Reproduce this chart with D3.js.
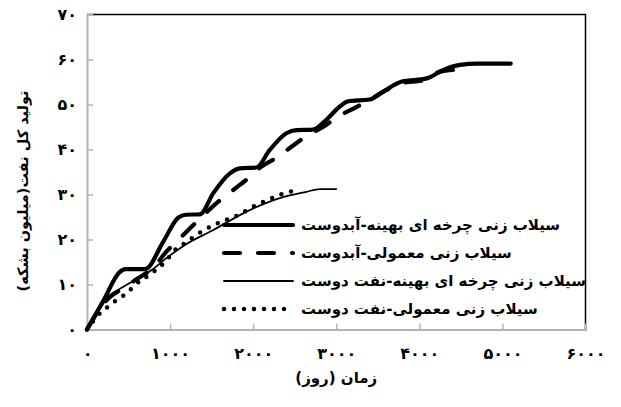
<!DOCTYPE html>
<html lang="fa">
<head>
<meta charset="UTF-8">
<title>تولید کل نفت</title>
<script src="https://d3js.org/d3.v7.min.js"></script>
<style>
  body { margin: 0; background: #fff; font-family: "DejaVu Sans", sans-serif; }
  .tick text { font-size: 16px; font-weight: bold; fill: #000; }
  .title { font-size: 15px; font-weight: bold; fill: #000; }
  .legend-label { font-size: 15px; font-weight: bold; fill: #000; }
</style>
</head>
<body>
<div id="chart"></div>
<script>
// series: [day, cumulative oil (MMbbl)]
const cyclicWaterWet = [
  [0, 0], [200, 6.5], [390, 12.7], [460, 13.4], [700, 13.4], [920, 19.6], [1100, 24.9],
  [1190, 25.5], [1360, 25.6], [1520, 30.3], [1720, 34.7], [1840, 35.8], [2040, 36],
  [2200, 39.9], [2400, 43.6], [2520, 44.3], [2720, 44.4], [2880, 46.6], [3040, 49.5],
  [3140, 50.7], [3400, 51.1], [3560, 52.8], [3790, 55.1], [4090, 55.8], [4290, 57.7],
  [4490, 58.8], [4700, 59.1], [5100, 59.1]
];
const normalWaterWet = [
  [0, 0], [250, 6.8], [400, 8.8], [600, 11.2], [800, 13.8], [960, 17.4], [1080, 19.6],
  [1280, 23.2], [1580, 28.4], [1760, 31], [1940, 33.6], [2100, 36.2], [2300, 38.4],
  [2460, 40.6], [2660, 43.2], [2840, 45], [3020, 47.3], [3220, 49.2], [3400, 51],
  [3600, 53.2], [3800, 54.8], [4050, 55.4], [4250, 57.3], [4410, 57.7]
];
const cyclicOilWet = [
  [0, 0], [120, 3.5], [256, 7.3], [377, 8.8], [578, 11], [778, 13.2], [979, 16.2],
  [1179, 18.8], [1520, 22.1], [1920, 26.2], [2320, 29.2], [2640, 30.6], [2800, 31.2],
  [3000, 31.2]
];
const normalOilWet = [
  [0, 0], [156, 3.6], [277, 5.4], [357, 6.6], [477, 8], [578, 9.9], [778, 12.5],
  [959, 15.4], [1039, 17.3], [1179, 19.2], [1400, 22], [1720, 24.7], [1840, 25.6],
  [1960, 26.9], [2080, 28], [2180, 28.8], [2320, 29.9], [2440, 30.6], [2550, 30.9]
];

const seriesNames = [
  'سیلاب زنی چرخه ای بهینه-آبدوست',
  'سیلاب زنی معمولی-آبدوست',
  'سیلاب زنی چرخه ای بهینه-نفت دوست',
  'سیلاب زنی معمولی-نفت دوست'
];
const xTicks = [0, 1000, 2000, 3000, 4000, 5000, 6000];
const yTicks = [0, 10, 20, 30, 40, 50, 60, 70];
const xTitle = 'زمان (روز)';
const yTitle = 'تولید کل نفت(میلیون بشکه)';

const faDigits = '۰۱۲۳۴۵۶۷۸۹';
const toFa = n => String(n).replace(/\d/g, c => faDigits[c]);

const width = 621, height = 407;
const margin = { top: 14.5, right: 35.5, bottom: 77.5, left: 87 };

const svg = d3.select('#chart').append('svg')
  .attr('width', width)
  .attr('height', height);

const x = d3.scaleLinear().domain([0, 6000]).range([margin.left, width - margin.right]);
const y = d3.scaleLinear().domain([0, 70]).range([height - margin.bottom, margin.top]);

// plot area border (top + right are black)
svg.append('path')
  .attr('d', `M${x(0)},${y(70)}H${x(6000)}V${y(0)}`)
  .attr('fill', 'none')
  .attr('stroke', '#000')
  .attr('stroke-width', 1.5);

const xAxis = svg.append('g')
  .attr('transform', `translate(0,${y(0)})`)
  .call(d3.axisBottom(x).tickValues(xTicks).tickFormat(toFa).tickSize(-6).tickPadding(18));
const yAxis = svg.append('g')
  .attr('transform', `translate(${x(0)},0)`)
  .call(d3.axisLeft(y).tickValues(yTicks).tickFormat(toFa).tickSize(-6).tickPadding(10));

[xAxis, yAxis].forEach(g => {
  g.select('.domain').attr('stroke', '#b3b3b3').attr('stroke-width', 2);
  g.selectAll('.tick line').attr('stroke', '#b3b3b3').attr('stroke-width', 1.5);
  g.selectAll('.tick text').style('font-family', '"DejaVu Sans", sans-serif');
});
// hide ticks lying on the borders
xAxis.selectAll('.tick line').filter(d => d === 0 || d === 6000).remove();
yAxis.selectAll('.tick line').filter(d => d === 0 || d === 70).remove();

const styles = [
  { width: 4.2, dash: null },
  { width: 4.2, dash: '16 18' },
  { width: 1.8, dash: null },
  { width: 4.5, dash: '0 10' }
];
const allSeries = [cyclicWaterWet, normalWaterWet, cyclicOilWet, normalOilWet];

const line = d3.line()
  .x(d => x(d[0]))
  .y(d => y(d[1]))
  .curve(d3.curveMonotoneX);

// draw oil-wet first so the thick curves sit on top
[3, 2, 1, 0].forEach(i => {
  svg.append('path')
    .datum(allSeries[i])
    .attr('d', line)
    .attr('fill', 'none')
    .attr('stroke', '#000')
    .attr('stroke-width', styles[i].width)
    .attr('stroke-linecap', 'round')
    .attr('stroke-linejoin', 'round')
    .attr('stroke-dasharray', styles[i].dash);
});

// legend
const legend = svg.append('g');
seriesNames.forEach((name, i) => {
  const ly = 225 + i * 28;
  legend.append('line')
    .attr('x1', 224).attr('x2', 293)
    .attr('y1', ly).attr('y2', ly)
    .attr('stroke', '#000')
    .attr('stroke-width', styles[i].width)
    .attr('stroke-linecap', 'round')
    .attr('stroke-dasharray', styles[i].dash);
  legend.append('text')
    .attr('class', 'legend-label')
    .attr('x', 301)
    .attr('y', ly)
    .attr('dy', '0.35em')
    .attr('direction', 'rtl')
    .attr('text-anchor', 'end')
    .text(name);
});

// axis titles
svg.append('text')
  .attr('class', 'title')
  .attr('x', (x(0) + x(6000)) / 2)
  .attr('y', 383)
  .attr('direction', 'rtl')
  .attr('text-anchor', 'middle')
  .text(xTitle);

svg.append('text')
  .attr('class', 'title')
  .attr('transform', 'translate(23,191) rotate(-90)')
  .attr('dy', '0.35em')
  .attr('direction', 'rtl')
  .attr('text-anchor', 'middle')
  .style('font-size', '14.5px')
  .text(yTitle);
</script>
</body>
</html>
